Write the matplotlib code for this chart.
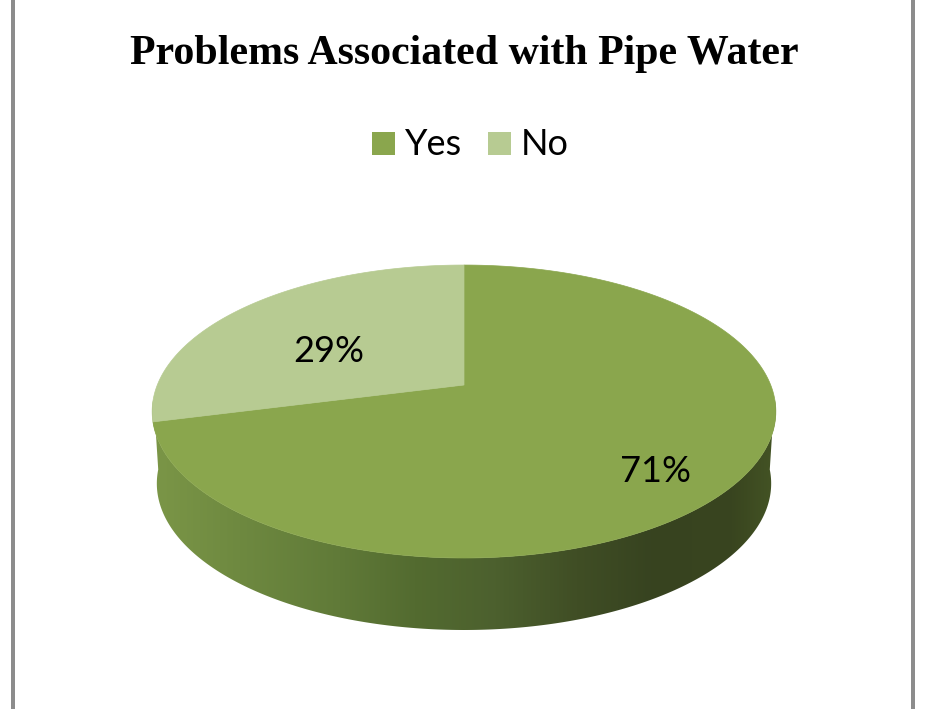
import numpy as np
import matplotlib
matplotlib.use("Agg")
from matplotlib import pyplot as plt
from matplotlib.colors import LinearSegmentedColormap
from matplotlib.patches import Polygon, Rectangle

#数据
categories=["Yes","No"]
values=[71,29]
title_text="Problems Associated with Pipe Water"

TOP_COLORS=["#8aa64d","#b7cb92"]
#侧面渐变
WALL_STOPS=[(0.0,"#7b9647"),(0.14,"#6e8940"),(0.3,"#607a38"),(0.42,"#536b30"),(0.55,"#4c602e"),
            (0.68,"#404e25"),(0.8,"#374320"),(0.93,"#39451f"),(1.0,"#445425")]

W,H=930,709
fig=plt.figure(figsize=(W/100,H/100),dpi=100,facecolor="white")
ax=fig.add_axes([0,0,1,1])
ax.set_xlim(0,W)
ax.set_ylim(H,0)
ax.axis("off")

#透视映射：圆盘(u,v) -> 像素
CX=464
def project(u,v,dy=0,shrink=1.0):
    d=0.181*v+1
    return CX+306.7*shrink*u/d,(-72*v+385)/d+dy

def wedge(a0,a1):
    t=np.radians(np.linspace(a0,a1,200))
    x,y=project(np.sin(t),np.cos(t))
    x0,y0=project(0,0)
    return np.column_stack([np.r_[x0,x],np.r_[y0,y]])

#侧面
t=np.radians(np.linspace(95,265,300))
xt,yt=project(np.sin(t),np.cos(t))
xb,yb=project(np.sin(t),np.cos(t),dy=72,shrink=0.985)
wall=Polygon(np.column_stack([np.r_[xt,xb[::-1]],np.r_[yt,yb[::-1]]]),closed=True,fc="none",ec="none")
ax.add_patch(wall)
cmap=LinearSegmentedColormap.from_list("wall",WALL_STOPS)
im=ax.imshow(np.linspace(0,1,256)[None,:],cmap=cmap,extent=[152,776,640,400],aspect="auto",zorder=1)
im.set_clip_path(wall)
ax.set_xlim(0,W)
ax.set_ylim(H,0)

#顶面
ang=np.cumsum([0]+values)/sum(values)*360
for i in range(len(values)):
    ax.add_patch(Polygon(wedge(ang[i],ang[i+1]),closed=True,fc=TOP_COLORS[i],ec=TOP_COLORS[i],lw=0.5,zorder=2))

#百分比标签
label_pos=[(655,471),(329,351)]
for v,(lx,ly) in zip(values,label_pos):
    ax.text(lx,ly,"%d%%"%v,fontsize=26,family="Lato",color="black",ha="center",va="center",zorder=3)

#标题和图例
ax.text(464,54,title_text,fontsize=30.2,family="Liberation Serif",fontweight="bold",ha="center",va="center")
legend_x=[372,488]
for i,name in enumerate(categories):
    ax.add_patch(Rectangle((legend_x[i],132),23,23,fc=TOP_COLORS[i],ec="none"))
    ax.text(legend_x[i]+33,155,name,fontsize=26,family="Lato",ha="left",va="baseline")

#左右边框
ax.add_patch(Rectangle((11,0),4,H,fc="#8c8c8c",ec="none"))
ax.add_patch(Rectangle((911,0),4,H,fc="#8c8c8c",ec="none"))

fig.savefig("out.png",dpi=100,facecolor="white")
